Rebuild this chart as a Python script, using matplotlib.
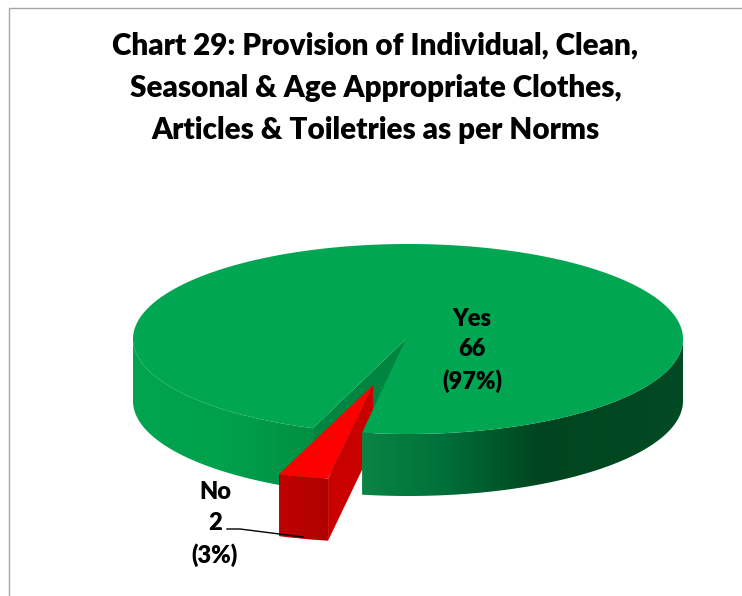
import numpy as np
import matplotlib
matplotlib.use('Agg')
import matplotlib.pyplot as plt
from matplotlib.colors import LinearSegmentedColormap
from matplotlib.patches import Polygon

plt.rcParams['font.family'] = ['Lato', 'DejaVu Sans']

title = 'Chart 29: Provision of Individual, Clean,\nSeasonal & Age Appropriate Clothes,\nArticles & Toiletries as per Norms'
names = ['Yes', 'No']
counts = [66, 2]
percents = [97, 3]

# pie geometry in image pixels
cx, cy = 408, 339
rx, ry = 275, 95
depth = 62
explode = (-34, 46)
yes_start = 200.2  # degrees clockwise from the top

W, H = 742, 596
fig = plt.figure(figsize=(W / 100, H / 100), dpi=100)
ax = fig.add_axes([0, 0, 1, 1])


def rim(t1, t2, dx=0, dy=0, n=200):
    t = np.radians(np.linspace(t1, t2, n))
    return np.column_stack([cx + dx + rx * np.sin(t), cy + dy - ry * np.cos(t)])


def wall(edge):
    # curved or flat side: the edge plus the same edge moved down by depth
    return np.vstack([edge, edge[::-1] + [0, depth]])


def shaded(pts, stops, zorder):
    # horizontal gradient clipped to the side shape
    cmap = LinearSegmentedColormap.from_list('side', stops)
    x0, x1 = pts[:, 0].min(), pts[:, 0].max()
    y0, y1 = pts[:, 1].min(), pts[:, 1].max()
    im = ax.imshow(np.linspace(0, 1, 256).reshape(1, -1), cmap=cmap, aspect='auto',
                   extent=(x0, x1, y1, y0), zorder=zorder)
    clip = Polygon(pts, closed=True, transform=ax.transData, fc='none', ec='none')
    ax.add_patch(clip)
    im.set_clip_path(clip)


total = sum(counts)
yes_sweep = 360 * counts[0] / total
yes_end = yes_start + yes_sweep
no_start = yes_end - 360
no_end = yes_start

# left part of the green side
shaded(wall(rim(270, yes_start)), ['#00a44f', '#00a14d', '#008f43'], 1)
# inner wall seen through the gap
apex = np.array([[cx - 2, cy]])
ax.add_patch(Polygon(wall(np.vstack([apex, rim(yes_start, yes_start, n=1)])),
                     fc='#008540', ec='none', zorder=2))

# exploded red slice
edge = rim(no_start, no_end, *explode, n=40)
tip = apex + [explode[0] + 1, explode[1]]
shaded(wall(edge), ['#c00000', '#b00000'], 3)
right_edge = np.vstack([tip, edge[:1]])
ax.add_patch(Polygon(wall(right_edge), fc='#c90000', ec='none', zorder=3))
ax.add_patch(Polygon(np.vstack([tip, edge]), fc='#ff0000', ec='none', zorder=3))

# right part of the green side and the top
shaded(wall(rim(no_start, 90)),
       [(0, '#0a8444'), (0.25, '#00703a'), (0.55, '#00451f'), (1, '#004a23')], 4)
top = np.vstack([apex, rim(yes_start, yes_end, n=500)])
ax.add_patch(Polygon(top, fc='#00a651', ec='none', zorder=5))

# labels
ax.text(472, 350.5, f'{names[0]}\n{counts[0]}\n({percents[0]}%)', ha='center', va='center',
        fontsize=17, fontweight='heavy', color='black', linespacing=1.47, zorder=6)
ax.text(215, 524, f'{names[1]}\n{counts[1]}\n({percents[1]}%)', ha='center', va='center',
        fontsize=17, fontweight='heavy', color='black', linespacing=1.47, zorder=6)
ax.plot([227, 240, 303], [529, 529, 537], color='black', lw=1, zorder=6)

ax.text(375.5, 88, title, ha='center', va='center', fontsize=21.3, fontweight='heavy',
        color='black', linespacing=1.62)

# chart frame, left and top only
ax.plot([742, 9, 9], [8, 8, 596], color='#a6a6a6', lw=1, zorder=0)

ax.set_xlim(0, W)
ax.set_ylim(H, 0)
ax.axis('off')
fig.savefig('out.png', dpi=100)
